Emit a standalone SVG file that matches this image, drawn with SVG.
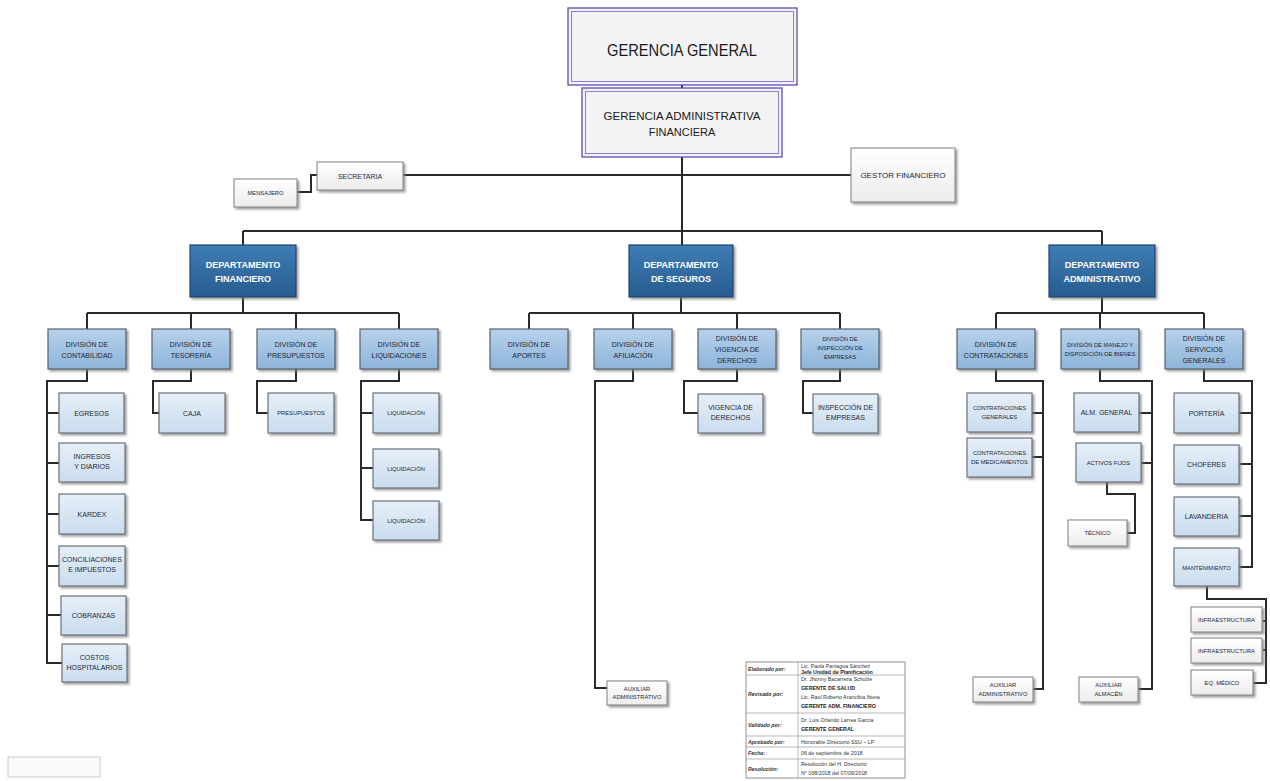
<svg xmlns="http://www.w3.org/2000/svg" width="1270" height="781" viewBox="0 0 1270 781">
<defs>
<linearGradient id="gLt" x1="0" y1="0" x2="0" y2="1"><stop offset="0" stop-color="#e6eff8"/><stop offset="1" stop-color="#c9dcee"/></linearGradient>
<linearGradient id="gDv" x1="0" y1="0" x2="0" y2="1"><stop offset="0" stop-color="#b7d2ec"/><stop offset="1" stop-color="#8db4da"/></linearGradient>
<linearGradient id="gDp" x1="0" y1="0" x2="0" y2="1"><stop offset="0" stop-color="#3f7db5"/><stop offset="1" stop-color="#275c8f"/></linearGradient>
<linearGradient id="gWh" x1="0" y1="0" x2="0" y2="1"><stop offset="0" stop-color="#ffffff"/><stop offset="1" stop-color="#ececec"/></linearGradient>
<filter id="sh" x="-10%" y="-10%" width="130%" height="140%"><feDropShadow dx="2" dy="2" stdDeviation="1" flood-color="#7a7a7a" flood-opacity="0.7"/></filter>
</defs>
<style>
.lt{fill:url(#gLt);stroke:#6b737d;stroke-width:1.2;filter:url(#sh)}
.dv{fill:url(#gDv);stroke:#58626e;stroke-width:1.2;filter:url(#sh)}
.dp{fill:url(#gDp);stroke:#1d4470;stroke-width:1.2;filter:url(#sh)}
.wh{fill:url(#gWh);stroke:#8a8a8a;stroke-width:1.1;filter:url(#sh)}
.gg{fill:#f3f3f5;stroke:#5a4fb8;stroke-width:1.3}
.ggi{fill:none;stroke:#8a80d8;stroke-width:1}
text{font-family:"Liberation Sans",Arial,sans-serif;text-anchor:middle;fill:#1f2836}
.s8{font-size:8px}
.s7{font-size:7px}
.s6{font-size:5.8px}
.dt{font-size:9px;font-weight:bold;fill:#ffffff}
.cn path{fill:none;stroke:#2a2a2a;stroke-width:2}
.tb{font-size:5.3px;text-anchor:start;fill:#333}
.tl{font-size:5.3px;text-anchor:start;font-weight:bold;font-style:italic;fill:#333}
.tbb{font-size:5.3px;text-anchor:start;font-weight:bold;fill:#222}
</style>
<rect width="1270" height="781" fill="#ffffff"/>

<g class="cn" id="connectors">
<path d="M682,84V88"/>
<path d="M682,157V245"/>
<path d="M403,175H851"/>
<path d="M297,192H311V175H317"/>
<path d="M243,231H1102M243,231V245M1102,231V245"/>
<path d="M243,297V313M87,313H399M87,313V329M191,313V329M296,313V329M399,313V329"/>
<path d="M681,297V313M529,313H840M529,313V329M633,313V329M737,313V329M840,313V329"/>
<path d="M1102,297V313M996,313H1204M996,313V329M1100,313V329M1204,313V329"/>
<path d="M87,369V381H47V663H62M47,413H59M47,463H59M47,514H59M47,566H59M47,615H61"/>
<path d="M191,369V381H153V413H159"/>
<path d="M296,369V381H257V413H268"/>
<path d="M399,369V381H361V520H373M361,413H373M361,468H373"/>
<path d="M633,369V381H595V688H607"/>
<path d="M737,369V381H684V413H698"/>
<path d="M840,369V381H803V413H813"/>
<path d="M996,369V381H1043V689H1033M1032,413H1043M1032,457H1043"/>
<path d="M1100,369V381H1152V689H1138M1139,413H1152M1141,463H1152"/>
<path d="M1107,482V494H1135V533H1127"/>
<path d="M1204,369V381H1252V567H1239M1239,413H1252M1239,464H1252M1239,516H1252"/>
<path d="M1207,586V599H1266V683H1253M1263,621H1266M1263,650H1266"/>
</g>

<g id="n-gerencia-general">
<rect class="gg" x="568" y="8" width="229" height="77"/>
<rect class="ggi" x="571.5" y="11.5" width="222" height="70"/>
<text x="682" y="56" style="font-size:17px;fill:#1a1a1a" textLength="150" lengthAdjust="spacingAndGlyphs">GERENCIA GENERAL</text>
</g>
<g id="n-gerencia-adm">
<rect class="gg" x="582" y="88" width="200" height="69"/>
<rect class="ggi" x="585.5" y="91.5" width="193" height="62"/>
<text x="682" y="120" style="font-size:11px;fill:#1a1a1a" textLength="157" lengthAdjust="spacingAndGlyphs">GERENCIA ADMINISTRATIVA</text>
<text x="682" y="136" style="font-size:11px;fill:#1a1a1a">FINANCIERA</text>
</g>
<g id="n-secretaria"><rect class="wh" x="317" y="162" width="86" height="28"/><text class="s7" x="360" y="178.5">SECRETARIA</text></g>
<g id="n-mensajero"><rect class="wh" x="234" y="179" width="63" height="28"/><text class="s6" x="265.5" y="195">MENSAJERO</text></g>
<g id="n-gestor"><rect class="wh" x="851" y="148" width="104" height="54"/><text class="s8" x="903" y="178">GESTOR FINANCIERO</text></g>

<g id="n-dep-fin"><rect class="dp" x="190" y="245" width="106" height="52"/><text class="dt" x="243" y="268">DEPARTAMENTO</text><text class="dt" x="243" y="282">FINANCIERO</text></g>
<g id="n-dep-seg"><rect class="dp" x="629" y="245" width="104" height="52"/><text class="dt" x="681" y="268">DEPARTAMENTO</text><text class="dt" x="681" y="282">DE SEGUROS</text></g>
<g id="n-dep-adm"><rect class="dp" x="1049" y="245" width="106" height="52"/><text class="dt" x="1102" y="268">DEPARTAMENTO</text><text class="dt" x="1102" y="282">ADMINISTRATIVO</text></g>

<g id="n-div-contab"><rect class="dv" x="48" y="329" width="78" height="40"/><text class="s7" x="87" y="347">DIVISIÓN DE</text><text class="s7" x="87" y="358">CONTABILIDAD</text></g>
<g id="n-div-tesor"><rect class="dv" x="152" y="329" width="78" height="40"/><text class="s7" x="191" y="347">DIVISIÓN DE</text><text class="s7" x="191" y="358">TESORERÍA</text></g>
<g id="n-div-presup"><rect class="dv" x="257" y="329" width="78" height="40"/><text class="s7" x="296" y="347">DIVISIÓN DE</text><text class="s7" x="296" y="358">PRESUPUESTOS</text></g>
<g id="n-div-liquid"><rect class="dv" x="360" y="329" width="78" height="40"/><text class="s7" x="399" y="347">DIVISIÓN DE</text><text class="s7" x="399" y="358">LIQUIDACIONES</text></g>
<g id="n-div-aportes"><rect class="dv" x="490" y="329" width="78" height="40"/><text class="s7" x="529" y="347">DIVISIÓN DE</text><text class="s7" x="529" y="358">APORTES</text></g>
<g id="n-div-afil"><rect class="dv" x="594" y="329" width="78" height="40"/><text class="s7" x="633" y="347">DIVISIÓN DE</text><text class="s7" x="633" y="358">AFILIACIÓN</text></g>
<g id="n-div-vig"><rect class="dv" x="698" y="329" width="78" height="40"/><text class="s7" x="737" y="341">DIVISIÓN DE</text><text class="s7" x="737" y="352">VIGENCIA DE</text><text class="s7" x="737" y="363">DERECHOS</text></g>
<g id="n-div-insp"><rect class="dv" x="801" y="329" width="78" height="40"/><text class="s6" x="840" y="341">DIVISIÓN DE</text><text class="s6" x="840" y="350">INSPECCIÓN DE</text><text class="s6" x="840" y="359">EMPRESAS</text></g>
<g id="n-div-contrat"><rect class="dv" x="957" y="329" width="78" height="40"/><text class="s7" x="996" y="347">DIVISIÓN DE</text><text class="s7" x="996" y="358">CONTRATACIONES</text></g>
<g id="n-div-manejo"><rect class="dv" x="1061" y="329" width="78" height="40"/><text class="s6" x="1100" y="347">DIVISIÓN DE MANEJO Y</text><text class="s6" x="1100" y="356">DISPOSICIÓN DE BIENES</text></g>
<g id="n-div-serv"><rect class="dv" x="1165" y="329" width="78" height="40"/><text class="s7" x="1204" y="341">DIVISIÓN DE</text><text class="s7" x="1204" y="352">SERVICIOS</text><text class="s7" x="1204" y="363">GENERALES</text></g>

<g id="n-egresos"><rect class="lt" x="59" y="393" width="65" height="40"/><text class="s7" x="91.5" y="415.5">EGRESOS</text></g>
<g id="n-ingresos"><rect class="lt" x="59" y="443" width="66" height="39"/><text class="s7" x="92" y="459">INGRESOS</text><text class="s7" x="92" y="469">Y DIARIOS</text></g>
<g id="n-kardex"><rect class="lt" x="59" y="494" width="66" height="40"/><text class="s7" x="92" y="516.5">KARDEX</text></g>
<g id="n-concil"><rect class="lt" x="59" y="546" width="66" height="40"/><text class="s7" x="92" y="562">CONCILIACIONES</text><text class="s7" x="92" y="572">E IMPUESTOS</text></g>
<g id="n-cobranzas"><rect class="lt" x="61" y="596" width="65" height="39"/><text class="s7" x="93.5" y="618">COBRANZAS</text></g>
<g id="n-costos"><rect class="lt" x="62" y="644" width="65" height="38"/><text class="s7" x="94.5" y="660">COSTOS</text><text class="s7" x="94.5" y="670">HOSPITALARIOS</text></g>
<g id="n-caja"><rect class="lt" x="159" y="393" width="66" height="40"/><text class="s7" x="192" y="415.5">CAJA</text></g>
<g id="n-presupuestos"><rect class="lt" x="268" y="393" width="66" height="40"/><text class="s6" x="301" y="415">PRESUPUESTOS</text></g>
<g id="n-liq1"><rect class="lt" x="373" y="393" width="66" height="40"/><text class="s6" x="406" y="415">LIQUIDACIÓN</text></g>
<g id="n-liq2"><rect class="lt" x="373" y="449" width="66" height="39"/><text class="s6" x="406" y="470.5">LIQUIDACIÓN</text></g>
<g id="n-liq3"><rect class="lt" x="373" y="501" width="66" height="39"/><text class="s6" x="406" y="522.5">LIQUIDACIÓN</text></g>
<g id="n-aux-adm1"><rect class="wh" x="607" y="681" width="60" height="24"/><text class="s6" x="637" y="691">AUXILIAR</text><text class="s6" x="637" y="699">ADMINISTRATIVO</text></g>
<g id="n-vigencia"><rect class="lt" x="698" y="394" width="65" height="39"/><text class="s7" x="730.5" y="410">VIGENCIA DE</text><text class="s7" x="730.5" y="420">DERECHOS</text></g>
<g id="n-inspeccion"><rect class="lt" x="813" y="394" width="65" height="39"/><text class="s7" x="845.5" y="410">INSPECCIÓN DE</text><text class="s7" x="845.5" y="420">EMPRESAS</text></g>
<g id="n-contrat-gen"><rect class="lt" x="967" y="393" width="65" height="39"/><text class="s6" x="999.5" y="410">CONTRATACIONES</text><text class="s6" x="999.5" y="419">GENERALES</text></g>
<g id="n-contrat-med"><rect class="lt" x="967" y="438" width="65" height="39"/><text class="s6" x="999.5" y="455">CONTRATACIONES</text><text class="s6" x="999.5" y="464">DE MEDICAMENTOS</text></g>
<g id="n-aux-adm2"><rect class="wh" x="973" y="677" width="60" height="25"/><text class="s6" x="1003" y="687">AUXILIAR</text><text class="s6" x="1003" y="696">ADMINISTRATIVO</text></g>
<g id="n-alm-general"><rect class="lt" x="1074" y="393" width="65" height="39"/><text class="s7" x="1106.5" y="415">ALM. GENERAL</text></g>
<g id="n-activos"><rect class="lt" x="1076" y="443" width="65" height="39"/><text class="s6" x="1108.5" y="464.5">ACTIVOS FIJOS</text></g>
<g id="n-tecnico"><rect class="wh" x="1068" y="520" width="59" height="26"/><text class="s6" x="1097.5" y="535">TÉCNICO</text></g>
<g id="n-aux-alm"><rect class="wh" x="1079" y="677" width="59" height="25"/><text class="s6" x="1108.5" y="687">AUXILIAR</text><text class="s6" x="1108.5" y="696">ALMACÉN</text></g>
<g id="n-porteria"><rect class="lt" x="1174" y="393" width="65" height="40"/><text class="s7" x="1206.5" y="415.5">PORTERÍA</text></g>
<g id="n-choferes"><rect class="lt" x="1174" y="445" width="65" height="39"/><text class="s7" x="1206.5" y="467">CHOFERES</text></g>
<g id="n-lavanderia"><rect class="lt" x="1174" y="497" width="65" height="39"/><text class="s7" x="1206.5" y="519">LAVANDERIA</text></g>
<g id="n-mantenimiento"><rect class="lt" x="1174" y="548" width="65" height="38"/><text class="s6" x="1206.5" y="570">MANTENIMIENTO</text></g>
<g id="n-infra1"><rect class="wh" x="1191" y="607" width="71" height="25"/><text class="s6" x="1226.5" y="621.5">INFRAESTRUCTURA</text></g>
<g id="n-infra2"><rect class="wh" x="1191" y="638" width="71" height="25"/><text class="s6" x="1226.5" y="652.5">INFRAESTRUCTURA</text></g>
<g id="n-eqmedico"><rect class="wh" x="1191" y="670" width="62" height="25"/><text class="s6" x="1222" y="684.5">EQ. MÉDICO</text></g>

<g id="approval-table">
<rect x="746" y="662" width="159" height="116" fill="#ffffff" stroke="#777" stroke-width="0.8"/>
<path d="M798,662V778M746,675H905M746,713H905M746,736H905M746,747H905M746,759H905" stroke="#999" stroke-width="0.7" fill="none"/>
<text class="tl" x="748" y="670.5">Elaborado por:</text>
<text class="tb" x="801" y="667.5">Lic. Paola Paniagua Sánchez</text>
<text class="tbb" x="801" y="673.5">Jefe Unidad de Planificación</text>
<text class="tl" x="748" y="695.5">Revisado por:</text>
<text class="tb" x="801" y="681">Dr. Jhonny Bacarreza Schulze</text>
<text class="tbb" x="801" y="689.5">GERENTE DE SALUD</text>
<text class="tb" x="801" y="699">Lic. Raul Roberto Arancibia Ibieta</text>
<text class="tbb" x="801" y="708">GERENTE ADM. FINANCIERO</text>
<text class="tl" x="748" y="726.5">Validado por:</text>
<text class="tb" x="801" y="722">Dr. Luis Orlando Larrea García</text>
<text class="tbb" x="801" y="731">GERENTE GENERAL</text>
<text class="tl" x="748" y="743.5">Aprobado por:</text>
<text class="tb" x="801" y="743.5">Honorable Directorio SSU – LP</text>
<text class="tl" x="748" y="755">Fecha:</text>
<text class="tb" x="801" y="755">06 de septiembre de 2018</text>
<text class="tl" x="748" y="770.5">Resolución:</text>
<text class="tb" x="801" y="766">Resolución del H. Directorio</text>
<text class="tb" x="801" y="775">N° 038/2018 del 07/09/2018</text>
</g>

<g id="n-blank"><rect x="8" y="757" width="92" height="20" fill="#fafafa" stroke="#bdbdbd" stroke-width="0.8"/></g>
</svg>
